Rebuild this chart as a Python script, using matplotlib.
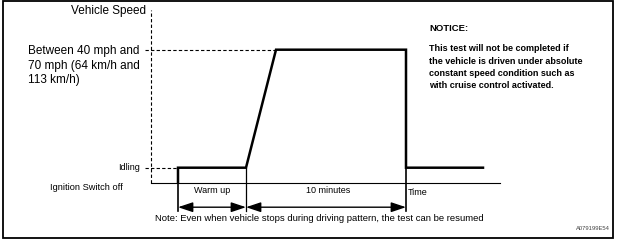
import matplotlib.pyplot as plt
from matplotlib.patches import Rectangle

plt.rcParams['font.family'] = ['Liberation Sans', 'DejaVu Sans']

# 车速曲线 (时间单位, 车速单位 —— 按图读取)
t_signal = [27, 27, 95, 125, 255, 255, 332]
v_signal = [0, 15, 15, 133, 133, 15, 15]

t_axis_end = 349
v_idle = 15
v_high = 133
t_warm = [27, 95]
t_drive = [95, 255]

speed_label = 'Vehicle Speed'
high_label = 'Between 40 mph and\n70 mph (64 km/h and\n113 km/h)'
idle_label = 'Idling'
off_label = 'Ignition Switch off'
warm_label = 'Warm up'
drive_label = '10 minutes'
time_label = 'Time'
note_label = 'Note: Even when vehicle stops during driving pattern, the test can be resumed'
notice_title = 'NOTICE:'
notice_text = ('This test will not be completed if\n'
               'the vehicle is driven under absolute\n'
               'constant speed condition such as\n'
               'with cruise control activated.')
fig_id = 'A079199E54'

fig = plt.figure(figsize=(6.18, 2.44), dpi=100)
ax = fig.add_axes([0, 0, 1, 1])
ax.set_xlim(-151, 467)
ax.set_ylim(-61.3, 182.7)
ax.axis('off')

# 外框
ax.add_patch(Rectangle((-148, -55), 610, 236.5, fill=False, lw=1.3, color='black'))

# 坐标轴
ax.plot([0, 0], [0, 173], color='black', lw=0.8, ls=(0, (3, 2)))
ax.plot([0, t_axis_end], [0, 0], color='black', lw=0.8)

# 虚线参考线
ax.plot([-6, t_signal[3]], [v_high, v_high], color='black', lw=0.8, ls=(0, (3, 2)))
ax.plot([-6, t_signal[0]], [v_idle, v_idle], color='black', lw=0.8, ls=(0, (3, 2)))

# 车速曲线
ax.plot(t_signal, v_signal, color='black', lw=1.8, solid_joinstyle='miter')

# 延长线
y_arrow = -24.5
ax.plot([t_warm[0], t_warm[0]], [0, y_arrow - 4], color='black', lw=1.2)
ax.plot([t_warm[1], t_warm[1]], [v_idle, y_arrow - 4], color='black', lw=0.9)
ax.plot([t_drive[1], t_drive[1]], [v_idle, y_arrow - 4], color='black', lw=1.2)

# 箭头
arrow_style = dict(arrowstyle='<|-|>,head_length=0.9,head_width=0.3', color='black', lw=1.0,
                   mutation_scale=10, shrinkA=0, shrinkB=0)
ax.annotate('', xy=(t_warm[0], y_arrow), xytext=(t_warm[1], y_arrow), arrowprops=arrow_style)
ax.annotate('', xy=(t_drive[0], y_arrow), xytext=(t_drive[1], y_arrow), arrowprops=arrow_style)

# 文字
ax.text(-5, 171.5, speed_label, ha='right', va='center', fontsize=8.5)
ax.text(-123, 138, high_label, ha='left', va='top', fontsize=8.5, linespacing=1.32)
ax.text(-11, v_idle, idle_label, ha='right', va='center', fontsize=6.5)
ax.text(-101, -4.5, off_label, ha='left', va='center', fontsize=6.7)
ax.text(sum(t_warm) / 2, -7.5, warm_label, ha='center', va='center', fontsize=6.5)
ax.text(177, -7.5, drive_label, ha='center', va='center', fontsize=6.5)
ax.text(t_drive[1] + 2, -9.5, time_label, ha='left', va='center', fontsize=6.5)
ax.text(4, -35.5, note_label, ha='left', va='center', fontsize=6.8)
ax.text(459, -45.5, fig_id, ha='right', va='center', fontsize=4.2, color='#444444')
ax.text(278, 154.5, notice_title, ha='left', va='center', fontsize=6.8, fontweight='bold')
ax.text(278, 138.5, notice_text, ha='left', va='top', fontsize=6.5,
        fontweight='bold', linespacing=1.48)

fig.savefig('out.png', dpi=100)
